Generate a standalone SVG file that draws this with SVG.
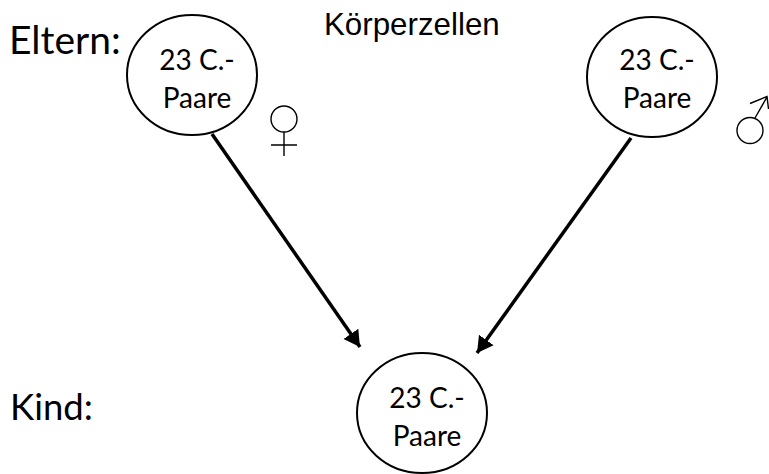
<svg xmlns="http://www.w3.org/2000/svg" width="769" height="474" viewBox="0 0 769 474">
<style>
.n{fill:#fff;stroke:#000;stroke-width:2}
.t{font-family:Lato,"Noto Sans",sans-serif;font-size:28px;fill:#000;text-anchor:middle}
.l{font-family:Lato,"Noto Sans",sans-serif;fill:#000}
.s{fill:none;stroke:#000;stroke-width:1.4}
.c{fill:none;stroke:#000;stroke-width:3.500}
</style>
<defs><marker id="a" markerUnits="userSpaceOnUse" markerWidth="18" markerHeight="20" refX="16" refY="10" orient="auto"><path d="M0 1L16 10L0 19Z" fill="#000"/></marker></defs>
<rect width="769" height="474" fill="#fff"/>
<text class="l" x="9" y="54" style="font-size:39px">Eltern:</text>
<text class="l" x="10" y="420" style="font-size:36.500px">Kind:</text>
<text x="324" y="35" font-family="'Liberation Sans',Arial,sans-serif" font-size="31.300px">Körperzellen</text>
<g id="connectors">
<path class="c" d="M212 134L360 347" marker-end="url(#a)"/>
<path class="c" d="M631 138L477 353" marker-end="url(#a)"/>
</g>
<g id="mother"><ellipse class="n" cx="192" cy="75" rx="65" ry="60"/><text class="t" x="197" y="70">23 C.-</text><text class="t" x="197" y="108">Paare</text></g>
<g id="father"><ellipse class="n" cx="652" cy="77" rx="65" ry="60"/><text class="t" x="657" y="70">23 C.-</text><text class="t" x="657" y="108">Paare</text></g>
<g id="child"><ellipse class="n" cx="422" cy="413" rx="65" ry="60"/><text class="t" x="427" y="408">23 C.-</text><text class="t" x="427" y="446">Paare</text></g>
<g id="female"><circle class="s" cx="284" cy="119" r="13"/><path class="s" d="M284 132V156M271 145H297"/></g>
<g id="male"><circle class="s" cx="750" cy="130.500" r="13"/><path class="s" d="M755 118L767 97M750 103.500L767 96.500L768.500 109"/></g>
</svg>
